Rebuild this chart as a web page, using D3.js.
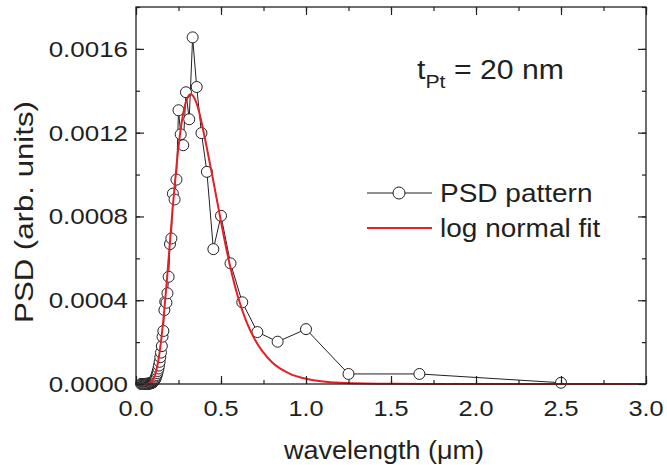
<!DOCTYPE html>
<html><head><meta charset="utf-8">
<script src="https://cdn.jsdelivr.net/npm/d3@7"></script>
<style>
html,body{margin:0;padding:0;background:#fff;}
text{font-family:"Liberation Sans",Arial,Helvetica,sans-serif;fill:#231f20;}
</style></head>
<body><svg id="c" width="667" height="465"></svg>
<script>
// PSD pattern (wavelength in µm, PSD in arb. units)
const wavelength = [2.5, 1.667, 1.25, 1.0, 0.833, 0.714, 0.625, 0.556, 0.5, 0.455, 0.417, 0.385, 0.357, 0.333, 0.313, 0.294, 0.278, 0.263, 0.25, 0.238, 0.227, 0.217, 0.208, 0.2, 0.192, 0.185, 0.179, 0.172, 0.167, 0.161, 0.156, 0.152, 0.147, 0.143, 0.139, 0.135, 0.132, 0.128, 0.125, 0.122, 0.119, 0.116, 0.114, 0.111, 0.109, 0.106, 0.104, 0.102, 0.1, 0.098, 0.096, 0.094, 0.091, 0.088, 0.085, 0.082, 0.078, 0.074, 0.07, 0.066, 0.062, 0.058, 0.054, 0.05, 0.045, 0.04, 0.035, 0.03];
const psd = [0.000006, 0.000048, 0.000048, 0.000262, 0.000202, 0.000248, 0.00039, 0.000576, 0.000803, 0.000644, 0.001013, 0.001198, 0.001418, 0.001655, 0.001264, 0.001393, 0.00114, 0.001192, 0.001307, 0.000976, 0.000881, 0.000909, 0.000695, 0.000668, 0.000512, 0.000433, 0.000388, 0.000393, 0.000353, 0.000253, 0.000226, 0.000181, 0.00015, 0.000128, 0.000106, 0.000088, 0.000074, 0.000062, 0.000052, 0.000043, 0.000036, 0.00003, 0.000025, 0.000021, 0.000018, 0.000015, 0.000013, 0.000011, 0.000009, 0.000008, 0.000007, 0.000006, 0.000005, 0.000004, 0.000003, 0.000003, 0.000002, 0.000002, 0.000001, 0.000001, 0.000001, 0.000001, 0, 0, 0, 0, 0, 0];
// log normal fit curve
const fitX = [0, 0.05, 0.08, 0.1, 0.12, 0.14, 0.16, 0.18, 0.2, 0.22, 0.24, 0.26, 0.28, 0.3, 0.322, 0.34, 0.36, 0.38, 0.4, 0.45, 0.5, 0.55, 0.6, 0.65, 0.7, 0.8, 0.9, 1.0, 1.2, 1.5, 2.0, 3.0];
const fitY = [0, 0, 0.000003, 0.000019, 0.000066, 0.000158, 0.000299, 0.00048, 0.000681, 0.000879, 0.001056, 0.001199, 0.001301, 0.001361, 0.001383, 0.00137, 0.001331, 0.00127, 0.001194, 0.00099, 0.000775, 0.000575, 0.000415, 0.000297, 0.000211, 0.000104, 0.000051, 0.000025, 0.000006, 0.000001, 0, 0];
const xTickValues = [0, 0.5, 1.0, 1.5, 2.0, 2.5, 3.0];
const xTickLabels = ["0.0", "0.5", "1.0", "1.5", "2.0", "2.5", "3.0"];
const yTickValues = [0, 0.0004, 0.0008, 0.0012, 0.0016];
const yTickLabels = ["0.0000", "0.0004", "0.0008", "0.0012", "0.0016"];
const seriesNames = ["PSD pattern", "log normal fit"];

const svg = d3.select("#c");
const L = 136, R = 646, T = 7, B = 384;
const x = d3.scaleLinear().domain([0, 3]).range([L, R]);
const y = d3.scaleLinear().domain([0, 0.0018]).range([B, T]);
const ink = "#231f20", red = "#e32026";

function txt(g, px, py, s, size, anchor, sx) {
  return g.append("text").attr("transform", `translate(${px},${py}) scale(${sx},1)`)
    .attr("text-anchor", anchor).style("font-size", size + "px").text(s);
}

// data lines
const pts = wavelength.map((w, i) => [w, psd[i]]).sort((a, b) => a[0] - b[0]);
svg.append("path").datum(pts)
  .attr("d", d3.line().x(d => x(d[0])).y(d => y(d[1])))
  .attr("fill", "none").attr("stroke", ink).attr("stroke-width", 1);
svg.append("g").selectAll("circle").data(pts).join("circle")
  .attr("cx", d => x(d[0])).attr("cy", d => y(d[1])).attr("r", 5.5)
  .attr("fill", "#fff").attr("stroke", ink).attr("stroke-width", 1);
const fit = fitX.map((v, i) => [v, fitY[i]]);
svg.append("path").datum(fit)
  .attr("d", d3.line().x(d => x(d[0])).y(d => y(d[1])).curve(d3.curveMonotoneX))
  .attr("fill", "none").attr("stroke", red).attr("stroke-width", 2);

// axes with inward ticks
const xMinor = d3.range(0, 13).map(i => i * 0.25);
const yMinor = d3.range(0, 10).map(i => i * 0.0002);
const axG = svg.append("g").attr("stroke", ink).attr("fill", "none");
const ax = (g, axis) => { g.call(axis); g.select(".domain").remove(); g.selectAll("text").remove(); g.selectAll("line").attr("stroke", ink).attr("stroke-width", 1.2); };
axG.append("g").attr("transform", `translate(0,${B})`).call(g => ax(g, d3.axisBottom(x).tickValues(xMinor).tickSize(-4)));
axG.append("g").attr("transform", `translate(0,${B})`).call(g => ax(g, d3.axisBottom(x).tickValues(xTickValues).tickSize(-8)));
axG.append("g").attr("transform", `translate(0,${T})`).call(g => ax(g, d3.axisTop(x).tickValues(xMinor).tickSize(-4)));
axG.append("g").attr("transform", `translate(0,${T})`).call(g => ax(g, d3.axisTop(x).tickValues(xTickValues).tickSize(-8)));
axG.append("g").attr("transform", `translate(${L},0)`).call(g => ax(g, d3.axisLeft(y).tickValues(yMinor).tickSize(-4)));
axG.append("g").attr("transform", `translate(${L},0)`).call(g => ax(g, d3.axisLeft(y).tickValues(yTickValues).tickSize(-8)));
axG.append("g").attr("transform", `translate(${R},0)`).call(g => ax(g, d3.axisRight(y).tickValues(yMinor).tickSize(-4)));
axG.append("g").attr("transform", `translate(${R},0)`).call(g => ax(g, d3.axisRight(y).tickValues(yTickValues).tickSize(-8)));
svg.append("rect").attr("x", L).attr("y", T).attr("width", R - L).attr("height", B - T)
  .attr("fill", "none").attr("stroke", ink).attr("stroke-width", 1.3);

// tick labels
xTickValues.forEach((v, i) => txt(svg, x(v), 416, xTickLabels[i], 22, "middle", 1.15));
yTickValues.forEach((v, i) => txt(svg, 128, y(v) + 8, yTickLabels[i], 22, "end", 1.18));

// axis titles
txt(svg, 384, 459, "wavelength (\u03bcm)", 25, "middle", 1.08);
svg.append("text").attr("transform", `translate(33,212) rotate(-90) scale(1.2,1)`)
  .attr("text-anchor", "middle").style("font-size", "26px").text("PSD (arb. units)");

// annotation
const ann = svg.append("text").attr("transform", "translate(417,79) scale(1.12,1)").style("font-size", "27px");
ann.append("tspan").text("t");
ann.append("tspan").attr("dy", 9).style("font-size", "19px").text("Pt");
ann.append("tspan").attr("dy", -9).text(" = 20 nm");

// legend
const lg = svg.append("g");
lg.append("line").attr("x1", 367).attr("x2", 432).attr("y1", 193).attr("y2", 193).attr("stroke", ink).attr("stroke-width", 1);
lg.append("circle").attr("cx", 399).attr("cy", 193).attr("r", 6).attr("fill", "#fff").attr("stroke", ink).attr("stroke-width", 1);
txt(lg, 440, 202, seriesNames[0], 25, "start", 1.12);
lg.append("line").attr("x1", 367).attr("x2", 432).attr("y1", 228).attr("y2", 228).attr("stroke", red).attr("stroke-width", 2);
txt(lg, 440, 237, seriesNames[1], 25, "start", 1.12);
</script></body></html>
